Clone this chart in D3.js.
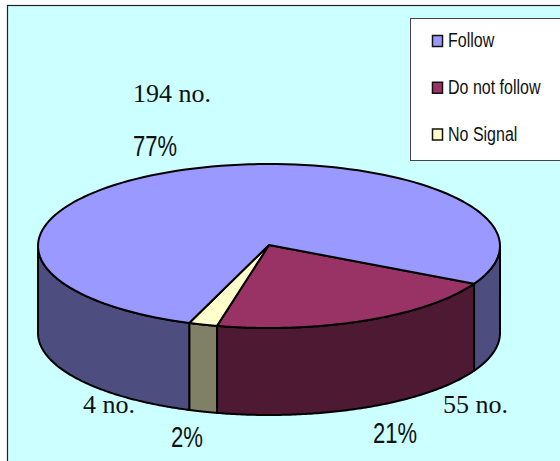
<!DOCTYPE html>
<html>
<head>
<meta charset="utf-8">
<script src="https://cdn.jsdelivr.net/npm/d3@7"></script>
<style>
html,body{margin:0;padding:0;background:#fff;}
svg{display:block;}
</style>
</head>
<body>
<svg id="chart" width="560" height="461"></svg>
<script>
// Survey response shares
const categories = ["Follow", "Do not follow", "No Signal"];
const shares = [77, 21, 2];
const counts = ["194 no.", "55 no.", "4 no."];
const shareLabels = ["77%", "21%", "2%"];
const topColors = ["#9999ff", "#993366", "#ffffcc"];
const sideColors = ["#4d4d80", "#4d1933", "#808066"];

const width = 560, height = 461;
const cx = 269, cy = 246, rx = 231, ry = 82, depth = 87;
const startDeg = 117.4; // clockwise from 12 o'clock, where the "Do not follow" slice begins

const svg = d3.select("#chart");

// Panel background
svg.append("rect")
  .attr("x", 7.5).attr("y", 5.5)
  .attr("width", width + 10).attr("height", height + 10)
  .attr("fill", "#ccffff").attr("stroke", "#222").attr("stroke-width", 1.2);

// Pie layout; order runs Do not follow, No Signal, Follow going clockwise on screen
const order = [1, 2, 0];
const pie = d3.pie().sort(null).value(i => shares[i])
  .startAngle(startDeg * Math.PI / 180)
  .endAngle((startDeg + 360) * Math.PI / 180);
const arcs = pie(order);

// Tilted-disc projection: pie angle to screen position
const xAt = a => cx + rx * Math.sin(a);
const yAt = a => cy - ry * Math.cos(a);

const sampled = (a0, a1) => d3.range(0, 121).map(k => a0 + (a1 - a0) * k / 120);
const line = d3.line();
const lineColor = "#000";

// Side wall: only the front half of the rim (pie angle between 90 and 270 degrees)
function wallPieces(d) {
  const lo = Math.PI / 2, hi = 3 * Math.PI / 2;
  const pieces = [];
  for (const shift of [0, 2 * Math.PI]) {
    const a0 = Math.max(d.startAngle, lo + shift);
    const a1 = Math.min(d.endAngle, hi + shift);
    if (a1 > a0) pieces.push([a0, a1]);
  }
  return pieces;
}

const walls = svg.append("g");
arcs.forEach(d => {
  wallPieces(d).forEach(([a0, a1]) => {
    const top = sampled(a0, a1).map(a => [xAt(a), yAt(a)]);
    const bottom = top.slice().reverse().map(([x, y]) => [x, y + depth]);
    walls.append("path")
      .attr("d", line(top.concat(bottom)) + "Z")
      .attr("fill", sideColors[d.data])
      .attr("stroke", lineColor).attr("stroke-width", 2).attr("stroke-linejoin", "round");
  });
});

// Top face of each slice
const tops = svg.append("g");
arcs.forEach(d => {
  const rim = sampled(d.startAngle, d.endAngle).map(a => [xAt(a), yAt(a)]);
  tops.append("path")
    .attr("d", line([[cx, cy - 1]].concat(rim)) + "Z")
    .attr("fill", topColors[d.data])
    .attr("stroke", lineColor).attr("stroke-width", 2).attr("stroke-linejoin", "round");
});

// Count and share labels
const serif = "'Liberation Serif', serif";
const sans = "'Liberation Sans', sans-serif";
const countX = [133, 443, 83];
const countY = [102, 413, 413];
const countLength = [78, 65, 52];
const shareX = [133, 373, 171];
const shareY = [156, 443, 447];
const shareLength = [44, 44, 32];

svg.append("g").selectAll("text").data(counts).join("text")
  .attr("x", (d, i) => countX[i]).attr("y", (d, i) => countY[i])
  .attr("font-family", serif).attr("font-size", 26).attr("fill", "#111")
  .attr("textLength", (d, i) => countLength[i]).attr("lengthAdjust", "spacingAndGlyphs")
  .text(d => d);

svg.append("g").selectAll("text").data(shareLabels).join("text")
  .attr("x", (d, i) => shareX[i]).attr("y", (d, i) => shareY[i])
  .attr("font-family", sans).attr("font-size", 29).attr("fill", "#111")
  .attr("textLength", (d, i) => shareLength[i]).attr("lengthAdjust", "spacingAndGlyphs")
  .text(d => d);

// Legend
const legend = svg.append("g");
legend.append("rect")
  .attr("x", 410.5).attr("y", 18.5).attr("width", 170).attr("height", 142)
  .attr("fill", "#fff").attr("stroke", "#444").attr("stroke-width", 1);

const legendY = d3.scalePoint().domain(categories).range([41, 134.5]);
const entries = legend.selectAll("g").data(categories).join("g")
  .attr("transform", d => `translate(0,${legendY(d)})`);
entries.append("rect")
  .attr("x", 432.5).attr("y", -5.5).attr("width", 10).attr("height", 11)
  .attr("fill", (d, i) => topColors[i]).attr("stroke", "#111").attr("stroke-width", 1.5);
// Condensed legend lettering
entries.append("text")
  .attr("transform", "translate(448,6) scale(0.8,1)")
  .attr("font-family", sans).attr("font-size", 20).attr("fill", "#111")
  .text(d => d);
</script>
</body>
</html>
